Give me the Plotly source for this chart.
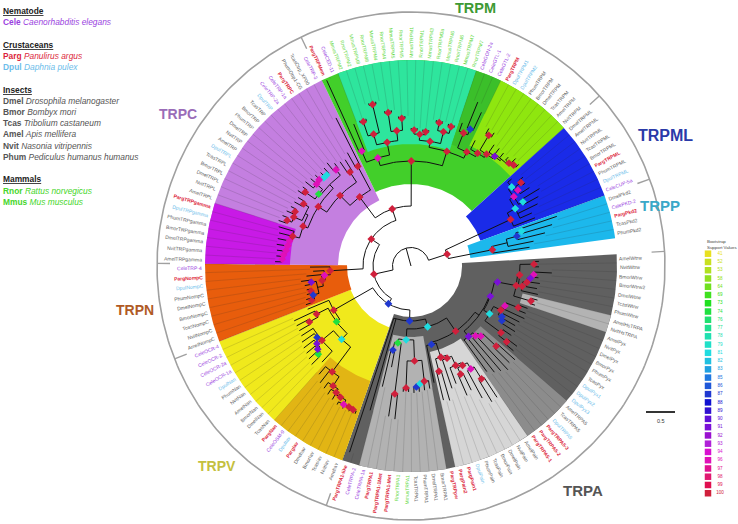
import math
import plotly.graph_objects as go

CX, CY = 411.0, 266.0
ARC_START, LEAF_STEP = 86.7, 2.452
R_WEDGE, R_RING, R_TICK = 206.0, 254.0, 241.0

leaf_names = [
 "AmelWtrw","NvitWtrw","BmorWtrw","BmorWtrw2","DmelWtrw","TcasWtrw","PhumWtrw","AmelHsTRPA","NvitHsTRPA",
 "AmelPyx","NvitPyx","DmelPyx","BmorPyx","PhumPyx","TcasPyx","DpulPyx1","DpulPyx2","DpulPyx3",
 "AmelTRPA5","TcasTRPA5","DpulTRPA5","PargTRPA5-3","PargTRPA5-2","PargTRPA5-1",
 "AmelPain","NvitPain","DmelPain","BmorPain","TcasPain","PhumPain","DpulPain","PargPain1","PargPain2","PargTRPpw",
 "BmorTRPA1","DmelTRPA1","PhumTRPA1","TcasTRPA1","MmusTRPA1","RnorTRPA1","PargTRPA1-Met","PargTRPA1-1Met","PargTRPA1","CeleTRPA-1a","CeleTRPA-2","PargTRPA1-like",
 "AmelIav","NvitIav","TcasIav","BmorIav","DmelIav","PargIav","DpulIav","CeleOSM-9","PargNan","TcasNan","DmelNan","BmorNan","AmelNan","NvitNan","PhumNan","DpulNan",
 "CeleOCR-1a","CeleOCR-2a","CeleOCR-2","CeleOCR-4",
 "AmelNompC","NvitNompC","TcasNompC","BmorNompC","DmelNompC","PhumNompC","DpulNompC","PargNompC","CeleTRP-4",
 "AmelTRPgamma","NvitTRPgamma","DmelTRPgamma","BmorTRPgamma","PhumTRPgamma","DpulTRPgamma","PargTRPgamma",
 "AmelTRPL","NvitTRPL","DmelTRPL","BmorTRPL","TcasTRPL","DpulTRPL",
 "AmelTRP","NvitTRP","DmelTRP","PhumTRP","BmorTRP","TcasTRP","DpulTRP","CeleTRP-2a","CeleTRP-1a","PargTRPC",
 "PhumOtrp1-CG","TcasOtrp_XP00","CeleTRP-3","PargTRPMem","CeleCED-11",
 "MmusTRPM2","RnorTRPM2","MmusTRPM8","RnorTRPM8","MmusTRPM4","RnorTRPM4","MmusTRPM5","RnorTRPM5",
 "MmusTRPM1","RnorTRPM1","MmusTRPM3","RnorTRPM3a","MmusTRPM6","RnorTRPM6","MmusTRPM7","RnorTRPM7",
 "CeleGON-2a","CeleGTL-1","CeleGTL-2","PargTRPM","DpulTRPM1","DpulTRPM2","PhumTRPM","BmorTRPM","DmelTRPM","TcasTRPM","AmelTRPM","NvitTRPM",
 "DmelTRPML","AmelTRPML","NvitTRPML","TcasTRPML","BmorTRPML","PargTRPML","PhumTRPML","DpulTRPML","CeleCUP-5a",
 "DmelPkd2","CelePKD-2","PargPkd2","TcasPkd2","PhumPkd2",
]

species_colors = {"Cele":"#9a3fe0","Parg":"#dc1f3c","Dpul":"#6cbdea","Mmus":"#62d83e","Rnor":"#62d83e"}
default_label_color = "#606060"

# first leaf, last leaf, inner radius, colour
wedges = [
 (0,45,51,"#606060"),(7,8,115,"#b3b3b3"),(18,23,92,"#8c8c8c"),(24,32,88,"#d6d6d6"),(34,43,71,"#b2b2b2"),
 (46,65,65,"#f0e91c"),(46,54,122,"#e2b514"),(66,74,64,"#e85d0c"),
 (75,100,73,"#c47fe0"),(75,81,121,"#c81ae6"),
 (101,130,82,"#42cf2a"),(103,118,122,"#2ee59d"),(119,121,128,"#3bbf2a"),(122,130,134,"#8fe60f"),
 (131,139,74,"#1a2be8"),(140,144,60,"#1cb8ec"),
]
tick_leaves = [0,46,66,75,101,131,140]

boot_values = [41,52,53,58,64,69,73,74,76,77,78,79,81,82,83,85,86,87,88,89,90,91,92,93,94,96,97,98,99,100]
boot_colors = ["#e8e020","#c8e020","#b0e020","#90e020","#70e020","#40e020","#20e020","#20e040","#20e070","#20e090",
 "#20e0b0","#20e0c8","#20dce0","#20c0e0","#20a0e0","#2078e0","#2058d8","#2038d0","#1010d0","#3010d0",
 "#6010d8","#7a10d8","#9a10d0","#b020d8","#d810d0","#e010b8","#e01090","#e01870","#e01050","#d0203c"]

R, M, P, B, C, G = 100, 96, 91, 87, 81, 74   # common support values

# tree: (radius, support, children...), a plain number is a leaf tip radius
wtrw = (107,R,(109,R,(123,R,128,128),(113,R,(117,R,(120,P,(123,M,141,128),130),128),130)),(125,R,131,130))
pyx = (92,C,(100,R,(102,M,(115,R,124,124),125),(104,B,122,(106,B,120,123))),(112,R,122,(122,R,133,133)))
trpa5 = (91,P,(95,M,(99,M,(117,R,140,138),142),138),135,130)
pain = (81,B,(96,R,(99,R,(109,R,(112,R,(119,M,(133,R,157,158),150),(119,R,138,141)),126),129),(109,R,140,138)),119)
trpa1 = (74,C,(95,R,(116,R,124,(118,C,125,(121,B,126,127))),(122,R,126,126)),(78,G,(129,R,154,152),(86,B,103,124)))
trpa = (55,B,(63,C,(79,R,(84,None,(85,P,(88,P,wtrw),pyx),trpa5),pain),trpa1),150,196)

gold = (132,R,(143,R,(147,R,(149,R,(154,M,(154,R,(155,R,158,158),158),157),155),153),150),148,142)
nan = (116,R,131,(118,B,(122,P,(125,P,(128,G,140,138),136),135),133),130)
trpv = (89,R,(93,G,(101,C,gold,nan),(106,R,(116,R,129,129),129)),112)
trpn = (81,R,(87,M,(90,R,(96,None,(102,B,(105,R,112,110),(103,R,108,107)),(101,P,108,111)),105),98),101)

gamma = (122,R,(124,M,(125,M,(126,M,(128,M,(129,M,136,135),135),136),136),136),138)
trpl = (118,None,(127,R,(132,R,140,138),(128,R,136,134)),(124,R,133,132))
trp = (117,G,(129,R,136,134),(125,M,135,(126,M,133,(124,C,132,(124,C,130,131)))))
trpc = (86,R,(100,R,(110,R,(115,R,gamma,trpl),(115,None,trp,(122,M,133,128))),(112,R,126,125)),(113,R,130,166))

def mouse_rat(r):
    return (r,R,r+2,r+2)
teal_a = (126,R,(137,R,mouse_rat(152),mouse_rat(166)),(136,R,mouse_rat(155),mouse_rat(148)))
teal_b = (126,R,(132,R,mouse_rat(136),mouse_rat(135)),(138,R,mouse_rat(146),mouse_rat(145)))
yellow_green = (131,R,141,(135,R,(152,R,158,157),(138,P,147,(140,None,147,146,(142,R,146,(144,R,150,148))))))
trpm = (105,R,(113,M,(125,M,204,153),teal_a),(120,R,teal_b,(127,R,(143,R,152,(149,B,177,169)),yellow_green)))

trpml = (110,R,(119,C,(124,M,(128,C,133,(131,M,(138,R,143,141),142)),(129,C,150,145)),141,132),133)
trpp = (83,R,(99,None,(110,B,(116,C,154,147),138),125),120)

tree = (18.5,None,
        (38,R,(44,B,trpa,trpv),(48,R,trpn,(60,R,trpc,trpm))),
        (38,R,trpml,trpp))
tree_stem = 0

group_labels = [("TRPM",475,8,"#3e9a34",14.5),("TRPML",665,135,"#2a3aa8",16),("TRPP",660,205,"#3aa8c8",15),
                ("TRPC",178,114,"#9a6cb8",14),("TRPN",135,310,"#b05a25",14),("TRPV",217,466,"#c4c040",14),("TRPA",583,490,"#555555",15)]

legend_lines = [
 (11,"<b><u>Nematode</u></b>","#222222"),
 (22,"<b>Cele</b> <i>Caenorhabditis elegans</i>","#9a3fe0"),
 (45,"<b><u>Crustaceans</u></b>","#222222"),
 (56,"<b>Parg</b> <i>Panulirus argus</i>","#dc1f3c"),
 (67,"<b>Dpul</b> <i>Daphnia pulex</i>","#6cbdea"),
 (90,"<b><u>Insects</u></b>","#222222"),
 (101,"<b>Dmel</b> <i>Drosophila melanogaster</i>","#555555"),
 (112,"<b>Bmor</b> <i>Bombyx mori</i>","#555555"),
 (123,"<b>Tcas</b> <i>Tribolium castaneum</i>","#555555"),
 (134,"<b>Amel</b> <i>Apis mellifera</i>","#555555"),
 (146,"<b>Nvit</b> <i>Nasonia vitripennis</i>","#555555"),
 (157,"<b>Phum</b> <i>Pediculus humanus humanus</i>","#555555"),
 (179,"<b><u>Mammals</u></b>","#222222"),
 (191,"<b>Rnor</b> <i>Rattus norvegicus</i>","#46d62a"),
 (202,"<b>Mmus</b> <i>Mus musculus</i>","#46d62a"),
]

FONT = "Liberation Sans"

def leaf_angle(i):
    return ARC_START + (i + 0.5) * LEAF_STEP

def edge_angle(i):
    return ARC_START + i * LEAF_STEP

def pt(angle, r):
    a = math.radians(angle)
    return CX + r * math.sin(a), CY - r * math.cos(a)

line_x, line_y, mark_x, mark_y, mark_c = [], [], [], [], []
tips = [0.0] * len(leaf_names)
counter = [0]

def seg(points):
    for x, y in points:
        line_x.append(x); line_y.append(y)
    line_x.append(None); line_y.append(None)

def walk(node, parent_r):
    if not isinstance(node, tuple):
        i = counter[0]; counter[0] += 1
        tips[i] = node
        ang = leaf_angle(i)
        seg([pt(ang, parent_r), pt(ang, node)])
        return ang
    r, boot = node[0], node[1]
    angles = [walk(c, r) for c in node[2:]]
    a0, a1 = angles[0], angles[-1]
    n = max(2, int(abs(a1 - a0) / 1.5) + 2)
    seg([pt(a0 + (a1 - a0) * k / (n - 1), r) for k in range(n)])
    ang = (a0 + a1) / 2
    seg([pt(ang, parent_r), pt(ang, r)])
    if boot is not None:
        x, y = pt(ang, r)
        mark_x.append(x); mark_y.append(y)
        mark_c.append(boot_colors[boot_values.index(boot)])
    return ang

walk(tree, tree_stem)

fig = go.Figure()

for first, last, r_in, color in wedges:
    a0, a1 = edge_angle(first), edge_angle(last + 1)
    n = max(2, int((a1 - a0) / 1.0) + 2)
    angs = [a0 + (a1 - a0) * k / (n - 1) for k in range(n)]
    pts = [pt(a, R_WEDGE) for a in angs] + [pt(a, r_in) for a in reversed(angs)]
    fig.add_trace(go.Scatter(x=[p[0] for p in pts] + [pts[0][0]], y=[p[1] for p in pts] + [pts[0][1]],
                             mode="lines", fill="toself", fillcolor=color, line=dict(width=0, color=color),
                             hoverinfo="skip", showlegend=False))

dx, dy = [], []
for i in range(1, len(leaf_names)):
    start = max(tips[i - 1], tips[i])
    a = edge_angle(i)
    p, q = pt(a, start), pt(a, R_WEDGE)
    dx += [p[0], q[0], None]; dy += [p[1], q[1], None]
fig.add_trace(go.Scatter(x=dx, y=dy, mode="lines", line=dict(color="rgba(40,40,40,0.25)", width=0.6),
                         hoverinfo="skip", showlegend=False))

ring = [pt(k, R_RING) for k in range(0, 361)]
fig.add_trace(go.Scatter(x=[p[0] for p in ring], y=[p[1] for p in ring], mode="lines",
                         line=dict(color="#a0a0a0", width=1.6), hoverinfo="skip", showlegend=False))
tx, ty = [], []
for i in tick_leaves:
    p, q = pt(edge_angle(i), R_RING), pt(edge_angle(i), R_TICK)
    tx += [p[0], q[0], None]; ty += [p[1], q[1], None]
fig.add_trace(go.Scatter(x=tx, y=ty, mode="lines", line=dict(color="#a0a0a0", width=1.4),
                         hoverinfo="skip", showlegend=False))

fig.add_trace(go.Scatter(x=line_x, y=line_y, mode="lines", line=dict(color="#111111", width=1.0),
                         hoverinfo="skip", showlegend=False))
fig.add_trace(go.Scatter(x=mark_x, y=mark_y, mode="markers",
                         marker=dict(symbol="diamond", size=6, color=mark_c, line=dict(width=0)),
                         hoverinfo="skip", showlegend=False))

annotations = []

def text_width(s, size, bold):
    w = 0.0
    for ch in s:
        if ch in "iljtfr-_": w += 0.3
        elif ch.isupper(): w += 0.69
        elif ch in "mw": w += 0.8
        else: w += 0.55
    return w * size * (1.05 if bold else 1.0)

LABEL_SIZE = 5.0
for i, name in enumerate(leaf_names):
    sp = name[:4]
    color = species_colors.get(sp, default_label_color)
    bold = sp == "Parg"
    c = leaf_angle(i) % 360
    angle = c - 90 if c < 180 else c - 270
    w = text_width(name, LABEL_SIZE, bold)
    x, y = pt(c, 209 + w / 2)
    annotations.append(dict(x=x, y=y, xref="x", yref="y", text=f"<b>{name}</b>" if bold else name, textangle=angle,
                            showarrow=False, xanchor="center", yanchor="middle",
                            font=dict(family=FONT, size=LABEL_SIZE, color=color)))

for text, x, y, color, size in group_labels:
    annotations.append(dict(x=x, y=y, xref="x", yref="y", text=f"<b>{text}</b>", showarrow=False,
                            xanchor="center", yanchor="middle", font=dict(family=FONT, size=size, color=color)))

for y, text, color in legend_lines:
    annotations.append(dict(x=1, y=y, xref="x", yref="y", text=text, showarrow=False, xanchor="left", yanchor="middle",
                            font=dict(family=FONT, size=8.4, color=color)))

LEG_X, LEG_Y0, LEG_DY = 708.0, 253.7, 8.26
for k, line in enumerate(["Bootstrap", "Support Values"]):
    annotations.append(dict(x=705, y=241 + k * 6, xref="x", yref="y", text=line, showarrow=False, xanchor="left",
                            yanchor="middle", font=dict(family=FONT, size=4.4, color="#444444")))
leg_y = [LEG_Y0 + k * LEG_DY for k in range(len(boot_values))]
fig.add_trace(go.Scatter(x=[LEG_X] * len(leg_y), y=leg_y, mode="markers",
                         marker=dict(symbol="square", size=6.5, color=boot_colors, line=dict(width=0)),
                         hoverinfo="skip", showlegend=False))
fig.add_trace(go.Scatter(x=[LEG_X + 12] * len(leg_y), y=leg_y, mode="text", text=[str(v) for v in boot_values],
                         textfont=dict(family=FONT, size=4.6, color=boot_colors), hoverinfo="skip", showlegend=False))

fig.add_trace(go.Scatter(x=[646, 675], y=[412, 412], mode="lines", line=dict(color="#000000", width=1.6),
                         hoverinfo="skip", showlegend=False))
annotations.append(dict(x=660.5, y=421, xref="x", yref="y", text="0.5", showarrow=False,
                        font=dict(family=FONT, size=5.5, color="#333333")))

fig.update_layout(width=738, height=524, autosize=False, margin=dict(l=0, r=0, t=0, b=0),
                  paper_bgcolor="white", plot_bgcolor="white", showlegend=False, annotations=annotations,
                  xaxis=dict(range=[0, 738], visible=False, fixedrange=True),
                  yaxis=dict(range=[524, 0], visible=False, fixedrange=True))
fig.write_html("out.html", config={"displayModeBar": False},
               post_script="document.body.style.margin='0';document.documentElement.style.overflow='hidden';")
